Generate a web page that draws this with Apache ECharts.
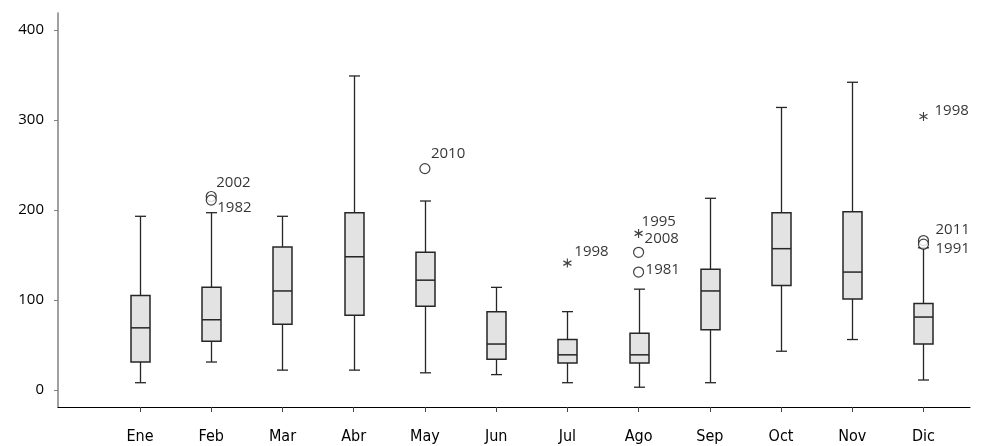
<!DOCTYPE html>
<html>
<head>
<meta charset="utf-8">
<script src="https://cdn.jsdelivr.net/npm/echarts@6/dist/echarts.min.js"></script>
<style>html,body{margin:0;padding:0;background:#fff}#c{width:992px;height:446px}</style>
</head>
<body>
<div id="c"></div>
<script>
// ---- data ----
const months = ['Ene','Feb','Mar','Abr','May','Jun','Jul','Ago','Sep','Oct','Nov','Dic'];
const whiskerLow  = [8, 31, 22, 22, 19, 17, 8, 3, 8, 43, 56, 11];
const q1          = [31, 54, 73, 83, 93, 34, 30, 30, 67, 116, 101, 51];
const median      = [69, 78, 110, 148, 122, 51, 39, 39, 110, 157, 131, 81];
const q3          = [105, 114, 159, 197, 153, 87, 56, 63, 134, 197, 198, 96];
const whiskerHigh = [193, 197, 193, 349, 210, 114, 87, 112, 213, 314, 342, 158];

const outlierMonths = ['Feb','Feb','May','Ago','Ago','Dic','Dic'];
const outlierValues = [215, 211, 246, 153, 131, 166, 162];
const outlierYears  = ['2002','1982','2010','2008','1981','2011','1991'];

const extremeMonths = ['Jul','Ago','Dic'];
const extremeValues = [141, 174, 304];
const extremeYears  = ['1998','1995','1998'];

const yTicks = [0, 100, 200, 300, 400];

// ---- styling (label offsets relative to point) ----
const outlierLabelOffsets = [[5,-14],[6,8],[6,-15],[6,-14],[7,-2],[12,-11],[12,5]];
const extremeLabelOffsets = [[7,-11],[3,-12],[11,-6]];

const Y_MIN = -19, Y_MAX = 419;
const labelFont = 'Open Sans';

const boxData = months.map((m, i) => [i, whiskerLow[i], q1[i], median[i], q3[i], whiskerHigh[i]]);

function pointLabel(year, off) {
  return {
    show: true, formatter: year, position: 'inside', align: 'left', verticalAlign: 'middle',
    offset: off, color: '#000', fontSize: 15, fontFamily: labelFont
  };
}

const outlierData = outlierMonths.map((m, k) => ({
  value: [months.indexOf(m), outlierValues[k]],
  label: pointLabel(outlierYears[k], outlierLabelOffsets[k])
}));
const extremeData = extremeMonths.map((m, k) => ({
  value: [months.indexOf(m), extremeValues[k]],
  label: pointLabel(extremeYears[k], extremeLabelOffsets[k])
}));

const chart = echarts.init(document.getElementById('c'), null, {renderer: 'canvas'});
const stroke = '#262626';
chart.setOption({
  animation: false,
  grid: [
    {left: 58, right: 22, top: 13, bottom: 39},
    {left: 104.4, right: 32.9, top: 13, bottom: 39}
  ],
  xAxis: [
    {gridIndex: 0, type: 'value', min: 0, max: 1,
     axisLine: {show: true, onZero: false, lineStyle: {color: '#000', width: 1}},
     axisTick: {show: false}, axisLabel: {show: false}, splitLine: {show: false}},
    {gridIndex: 1, type: 'category', data: months, boundaryGap: true,
     axisLine: {show: false, onZero: false},
     axisTick: {show: true, alignWithLabel: true, length: 5, lineStyle: {color: '#444'}},
     axisLabel: {margin: 22, fontSize: 16, color: '#000', fontFamily: 'DejaVu Sans Condensed'},
     splitLine: {show: false}}
  ],
  yAxis: [
    {gridIndex: 0, type: 'value', min: Y_MIN, max: Y_MAX,
     axisLine: {show: true, onZero: false, lineStyle: {color: '#808080', width: 1.5}},
     axisTick: {show: true, customValues: yTicks, length: 4, lineStyle: {color: '#808080'}},
     axisLabel: {customValues: yTicks, margin: 14, fontSize: 15, color: '#000', fontFamily: labelFont},
     splitLine: {show: false}},
    {gridIndex: 1, type: 'value', min: Y_MIN, max: Y_MAX, show: false, splitLine: {show: false}}
  ],
  series: [
    {
      type: 'custom', xAxisIndex: 1, yAxisIndex: 1, data: boxData,
      encode: {x: 0, y: [1, 2, 3, 4, 5]},
      renderItem: function (params, api) {
        const i = api.value(0);
        const pLo = api.coord([i, api.value(1)]);
        const pQ1 = api.coord([i, api.value(2)]);
        const pMd = api.coord([i, api.value(3)]);
        const pQ3 = api.coord([i, api.value(4)]);
        const pHi = api.coord([i, api.value(5)]);
        const x = Math.round(pLo[0]) + 0.5;
        const bw = 19, cw = 11;
        const ls = {stroke: stroke, lineWidth: 1.3};
        return {type: 'group', children: [
          {type: 'line', shape: {x1: x, y1: pLo[1], x2: x, y2: pQ1[1]}, style: ls},
          {type: 'line', shape: {x1: x, y1: pQ3[1], x2: x, y2: pHi[1]}, style: ls},
          {type: 'line', shape: {x1: x - cw / 2, y1: pLo[1], x2: x + cw / 2, y2: pLo[1]}, style: ls},
          {type: 'line', shape: {x1: x - cw / 2, y1: pHi[1], x2: x + cw / 2, y2: pHi[1]}, style: ls},
          {type: 'rect', shape: {x: x - bw / 2, y: pQ3[1], width: bw, height: pQ1[1] - pQ3[1]},
           style: {fill: '#e3e3e3', stroke: stroke, lineWidth: 1.5}},
          {type: 'line', shape: {x1: x - bw / 2, y1: pMd[1], x2: x + bw / 2, y2: pMd[1]}, style: {stroke: stroke, lineWidth: 1.5}}
        ]};
      }
    },
    {
      type: 'scatter', xAxisIndex: 1, yAxisIndex: 1, data: outlierData,
      symbol: 'circle', symbolSize: 10,
      itemStyle: {color: '#fff', borderColor: '#111', borderWidth: 1.2}
    },
    {
      type: 'scatter', xAxisIndex: 1, yAxisIndex: 1, data: extremeData,
      symbol: 'path://M5,0 L5,10 M0.67,2.5 L9.33,7.5 M0.67,7.5 L9.33,2.5', symbolSize: [8, 9],
      itemStyle: {color: 'none', borderColor: '#111', borderWidth: 1.2}
    }
  ]
});
</script>
</body>
</html>
